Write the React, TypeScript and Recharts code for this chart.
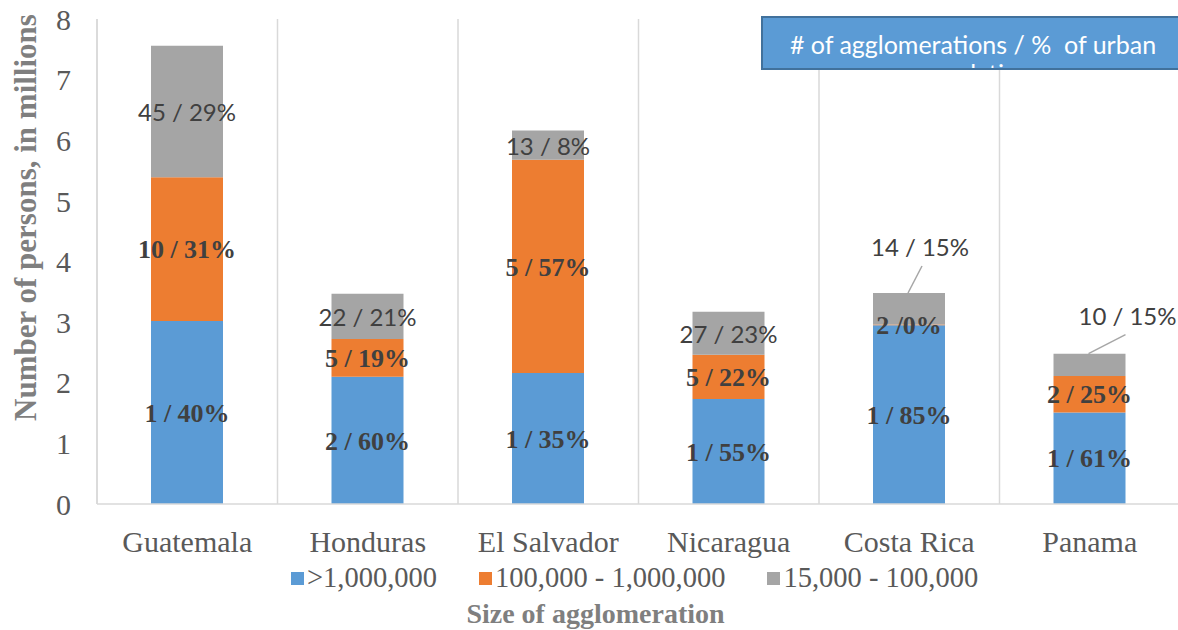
import React from 'react';
import { BarChart, Bar, XAxis, YAxis, CartesianGrid, Legend, LabelList, Label } from 'recharts';

const countries = ['Guatemala', 'Honduras', 'El Salvador', 'Nicaragua', 'Costa Rica', 'Panama'];
const over1M = [3.02, 2.1, 2.16, 1.73, 2.95, 1.51];
const mid = [2.37, 0.62, 3.52, 0.73, 0.01, 0.6];
const small = [2.17, 0.75, 0.48, 0.71, 0.52, 0.37];
const over1MLabels = ['1 / 40%', '2 / 60%', '1 / 35%', '1 / 55%', '1 / 85%', '1 / 61%'];
const midLabels = ['10 / 31%', '5 / 19%', '5 / 57%', '5 / 22%', '2 /0%', '2 / 25%'];
const smallLabels = ['45 / 29%', '22 / 21%', '13 / 8%', '27 / 23%', '14 / 15%', '10 / 15%'];
const seriesNames = ['>1,000,000', '100,000 - 1,000,000', '15,000 - 100,000'];
const yTicks = [0, 1, 2, 3, 4, 5, 6, 7, 8];
const titleText = '# of agglomerations / %  of urban population';
const yTitle = 'Number of persons, in millions';
const xTitle = 'Size of agglomeration';

const colors = ['#5B9BD5', '#ED7D31', '#A5A5A5'];

// callout style for labels drawn outside their segment (offsets from top-center of bar)
const callouts: Record<number, { dx: number; dy: number; lx: number; ly: number }> = {
  4: { dx: 11, dy: -47, lx: 13, ly: -27 },
  5: { dx: 38, dy: -38, lx: 36, ly: -19 },
};

const data = countries.map((c, i) => ({
  country: c,
  a: over1M[i],
  b: mid[i],
  c: small[i],
  la: over1MLabels[i],
  lb: midLabels[i],
  lc: smallLabels[i],
}));

const serif = 'Liberation Serif, Times New Roman, serif';
const sans = 'Lato, Liberation Sans, sans-serif';

const GrayLabel = (props: any) => {
  const vb = props.viewBox && props.viewBox.x !== undefined ? props.viewBox : props;
  const x = Number(vb.x);
  const y = Number(vb.y);
  const w = Number(vb.width);
  const h = Number(vb.height);
  const idx = props.index;
  const cx = x + w / 2;
  const co = callouts[idx];
  if (co) {
    return (
      <g>
        <line x1={cx - 1} y1={y} x2={cx + co.lx} y2={y + co.ly} stroke="#A6A6A6" strokeWidth={1.5} />
        <text x={cx + co.dx} y={y + co.dy} textAnchor="middle" dominantBaseline="central" fill="#404040" fontFamily={sans} fontSize={24}>
          {props.value}
        </text>
      </g>
    );
  }
  return (
    <text x={cx} y={y + h / 2} textAnchor="middle" dominantBaseline="central" fill="#404040" fontFamily={sans} fontSize={24}>
      {props.value}
    </text>
  );
};

const LegendContent = (props: any) => {
  const payload = [...(props.payload || [])].sort(
    (p: any, q: any) => seriesNames.indexOf(p.value) - seriesNames.indexOf(q.value)
  );
  return (
    <div style={{ display: 'flex', alignItems: 'center', gap: 42, fontFamily: serif, fontSize: 28.5, color: '#595959', whiteSpace: 'nowrap' }}>
      {payload.map((p: any, i: number) => (
        <div key={i} style={{ display: 'flex', alignItems: 'center' }}>
          <span style={{ display: 'inline-block', width: 13, height: 13, background: p.color, marginRight: 3 }} />
          <span style={{ lineHeight: '30px' }}>{p.value}</span>
        </div>
      ))}
    </div>
  );
};

export default function App() {
  return (
    <div style={{ position: 'fixed', left: 0, top: 0, width: 1178, height: 630, overflow: 'hidden', background: '#fff' }}>
      <BarChart
        width={1190}
        height={630}
        data={data}
        margin={{ top: 19, right: 10, bottom: 0, left: 37 }}
        barSize={72}
      >
        <CartesianGrid
          horizontal={false}
          stroke="#D9D9D9"
          strokeWidth={1.5}
          verticalCoordinatesGenerator={(p: any) => {
            const o = p.offset;
            return countries.map((_, i) => o.left + (i * o.width) / countries.length).concat([o.left + o.width]);
          }}
        />
        <XAxis
          dataKey="country"
          interval={0}
          tickLine={false}
          tickSize={0}
          tickMargin={27}
          height={126}
          axisLine={{ stroke: '#D9D9D9', strokeWidth: 1.5 }}
          tick={{ fill: '#595959', fontSize: 30, fontFamily: serif }}
        >
          <Label
            content={(p: any) => {
              const vb = p.viewBox;
              return (
                <text x={vb.x + vb.width / 2 - 43} y={vb.y + 109} textAnchor="middle" dominantBaseline="central" fill="#7F7F7F" fontFamily={serif} fontWeight="bold" fontSize={28}>
                  {xTitle}
                </text>
              );
            }}
          />
        </XAxis>
        <YAxis
          domain={[0, 8]}
          ticks={yTicks}
          width={60}
          tickLine={false}
          tickSize={0}
          tickMargin={26}
          axisLine={{ stroke: '#D9D9D9', strokeWidth: 1.5 }}
          tick={{ fill: '#595959', fontSize: 30, fontFamily: serif }}
        >
          <Label
            content={(p: any) => {
              const vb = p.viewBox;
              const cx = vb.x - 12;
              const cy = vb.y + vb.height / 2 - 44;
              return (
                <text x={cx} y={cy} transform={`rotate(-90 ${cx} ${cy})`} textAnchor="middle" dominantBaseline="central" fill="#7F7F7F" fontFamily={serif} fontWeight="bold" fontSize={31}>
                  {yTitle}
                </text>
              );
            }}
          />
        </YAxis>
        <Legend
          layout="horizontal"
          verticalAlign="middle"
          align="center"
          wrapperStyle={{ top: 563, left: 291, width: 760, height: 30 }}
          content={<LegendContent />}
        />
        <Bar dataKey="a" name={seriesNames[0]} stackId="s" fill={colors[0]} isAnimationActive={false}>
          <LabelList dataKey="la" position="center" fill="#404040" fontFamily={serif} fontWeight="bold" fontSize={26} />
        </Bar>
        <Bar dataKey="b" name={seriesNames[1]} stackId="s" fill={colors[1]} isAnimationActive={false}>
          <LabelList dataKey="lb" position="center" fill="#404040" fontFamily={serif} fontWeight="bold" fontSize={26} />
        </Bar>
        <Bar dataKey="c" name={seriesNames[2]} stackId="s" fill={colors[2]} isAnimationActive={false}>
          <LabelList dataKey="lc" content={<GrayLabel />} />
        </Bar>
      </BarChart>
      <div
        style={{
          position: 'absolute',
          left: 761,
          top: 16,
          width: 424,
          height: 54,
          boxSizing: 'border-box',
          background: '#5B9BD5',
          border: '2px solid #41719C',
          color: '#fff',
          fontFamily: sans,
          fontSize: 25,
          lineHeight: '29px',
          textAlign: 'center',
          paddingTop: 12,
          overflow: 'hidden',
          whiteSpace: 'pre-wrap',
        }}
      >
        {titleText}
      </div>
    </div>
  );
}
